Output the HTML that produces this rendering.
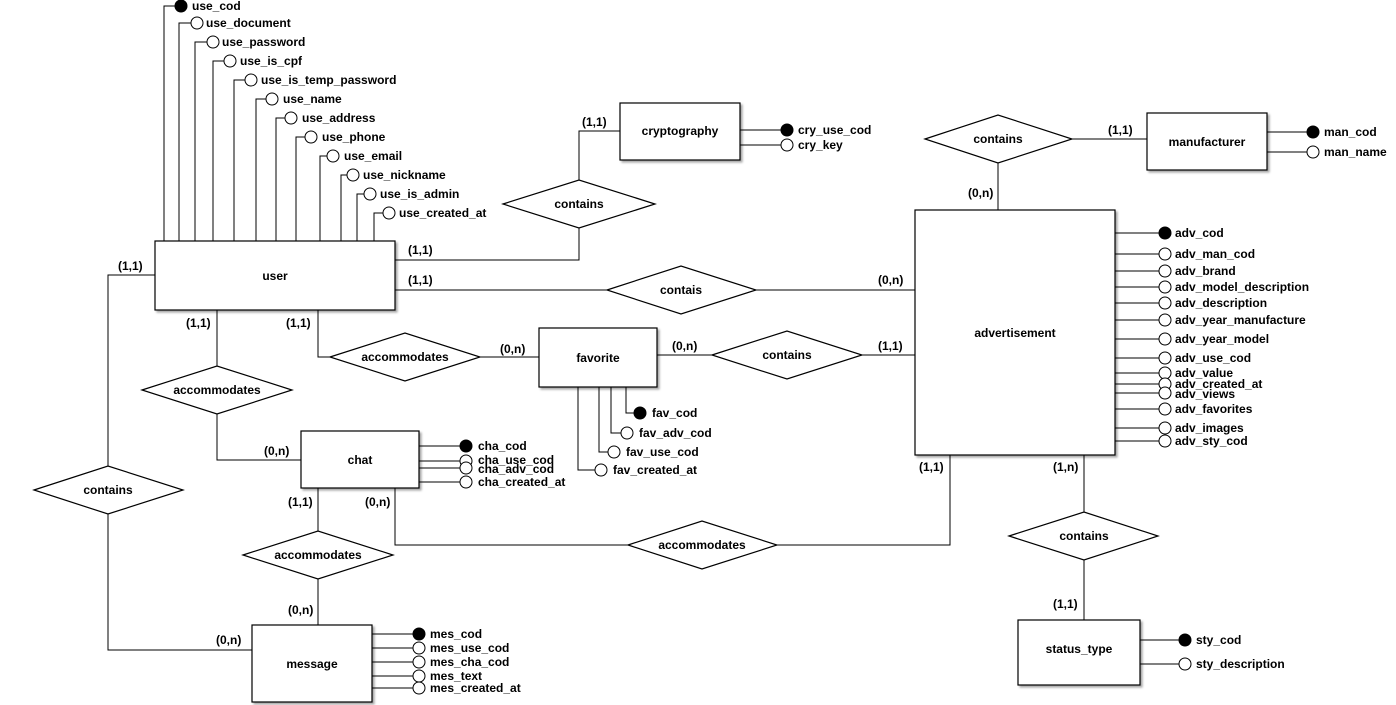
<!DOCTYPE html>
<html><head><meta charset="utf-8"><style>
body{margin:0;background:#fff}
svg{display:block;font-family:"Liberation Sans",Arial,sans-serif;font-weight:bold;font-size:12px}
.b{fill:#fff;stroke:#000;stroke-width:1.2}
.l{fill:none;stroke:#000;stroke-width:1}
.o{fill:#fff;stroke:#000;stroke-width:1}
.f{fill:#000;stroke:#000}
</style></head><body>
<svg width="1396" height="705" viewBox="0 0 1396 705">
<defs><filter id="s"><feDropShadow dx="2" dy="2" stdDeviation="1" flood-opacity="0.35"/></filter></defs>
<!-- connectors -->
<g class="l">
<!-- user attrs -->
<path d="M164 241V6H175M179 241V23H191M195 241V42H207M213 241V61H224M234 241V80H245M256 241V99H266M276 241V118H285M296 241V137H305M320 241V156H327M341 241V175H347M357 241V194H364M374 241V213H383"/>
<path d="M395 260H579V228M579 180V131H620"/>
<path d="M740 130H781M740 145H781"/>
<path d="M1072 139H1147M998 163V210M1267 132H1307M1267 152H1307"/>
<path d="M395 290H607M756 290H915"/>
<path d="M657 355H712M862 355H915"/>
<path d="M318 310V357H330M480 357H539"/>
<path d="M578 387V470H595M599 387V452H608M611 387V433H621M626 387V413H634"/>
<path d="M217 310V366M217 414V460H301"/>
<path d="M419 446H460M419 461H460M419 468H460M419 482H460"/>
<path d="M318 488V531M318 579V625"/>
<path d="M395 488V545H628M777 545H950V455"/>
<path d="M372 634H413M372 648H413M372 662H413M372 676H413M372 688H413"/>
<path d="M155 275H108V466M108 514V650H252"/>
<path d="M1084 455V512M1084 560V620M1140 640H1179M1140 664H1179"/>
<path d="M1115 233H1159M1115 254H1159M1115 271H1159M1115 287H1159M1115 303H1159M1115 320H1159M1115 339H1159M1115 358H1159M1115 373H1159M1115 384H1159M1115 393H1159M1115 409H1159M1115 428H1159M1115 441H1159"/>
</g>
<!-- boxes -->
<g class="b" filter="url(#s)">
<rect x="155" y="241" width="240" height="69"/>
<rect x="620" y="103" width="120" height="57"/>
<rect x="1147" y="113" width="120" height="57"/>
<rect x="915" y="210" width="200" height="245"/>
<rect x="539" y="328" width="118" height="59"/>
<rect x="301" y="431" width="118" height="57"/>
<rect x="252" y="625" width="120" height="77"/>
<rect x="1018" y="620" width="122" height="65"/>
</g>
<g class="b">
<polygon points="503,204 579,180 655,204 579,228"/>
<polygon points="925,139 998,115 1072,139 998,163"/>
<polygon points="607,290 681,266 756,290 681,314"/>
<polygon points="712,355 787,331 862,355 787,379"/>
<polygon points="330,357 405,333 480,357 405,381"/>
<polygon points="142,390 217,366 292,390 217,414"/>
<polygon points="243,555 318,531 393,555 318,579"/>
<polygon points="628,545 702,521 777,545 702,569"/>
<polygon points="34,490 108,466 183,490 108,514"/>
<polygon points="1009,536 1084,512 1158,536 1084,560"/>
</g>
<!-- circles -->
<circle class="f" cx="181" cy="6" r="6"/>
<g class="o">
<circle cx="197" cy="23" r="6"/><circle cx="213" cy="42" r="6"/><circle cx="230" cy="61" r="6"/><circle cx="251" cy="80" r="6"/><circle cx="272" cy="99" r="6"/><circle cx="291" cy="118" r="6"/><circle cx="311" cy="137" r="6"/><circle cx="333" cy="156" r="6"/><circle cx="353" cy="175" r="6"/><circle cx="370" cy="194" r="6"/><circle cx="389" cy="213" r="6"/>
<circle cx="787" cy="145" r="6"/><circle cx="1313" cy="152" r="6"/><circle cx="1185" cy="664" r="6"/>
<circle cx="627" cy="433" r="6"/><circle cx="614" cy="452" r="6"/><circle cx="601" cy="470" r="6"/>
<circle cx="466" cy="461" r="6"/><circle cx="466" cy="468" r="6"/><circle cx="466" cy="482" r="6"/>
<circle cx="419" cy="648" r="6"/><circle cx="419" cy="662" r="6"/><circle cx="419" cy="676" r="6"/><circle cx="419" cy="688" r="6"/>
<circle cx="1165" cy="254" r="6"/><circle cx="1165" cy="271" r="6"/><circle cx="1165" cy="287" r="6"/><circle cx="1165" cy="303" r="6"/><circle cx="1165" cy="320" r="6"/><circle cx="1165" cy="339" r="6"/><circle cx="1165" cy="358" r="6"/><circle cx="1165" cy="373" r="6"/><circle cx="1165" cy="384" r="6"/><circle cx="1165" cy="393" r="6"/><circle cx="1165" cy="409" r="6"/><circle cx="1165" cy="428" r="6"/><circle cx="1165" cy="441" r="6"/>
</g>
<g class="f">
<circle cx="787" cy="130" r="6"/><circle cx="1313" cy="132" r="6"/><circle cx="1185" cy="640" r="6"/><circle cx="640" cy="413" r="6"/><circle cx="466" cy="446" r="6"/><circle cx="419" cy="634" r="6"/><circle cx="1165" cy="233" r="6"/>
</g>
<!-- texts -->
<g dominant-baseline="central">
<text x="192" y="6">use_cod</text><text x="206" y="23">use_document</text><text x="222" y="42">use_password</text><text x="240" y="61">use_is_cpf</text><text x="261" y="80">use_is_temp_password</text><text x="283" y="99">use_name</text><text x="302" y="118">use_address</text><text x="322" y="137">use_phone</text><text x="344" y="156">use_email</text><text x="363" y="175">use_nickname</text><text x="380" y="194">use_is_admin</text><text x="399" y="213">use_created_at</text>
<text x="798" y="130">cry_use_cod</text><text x="798" y="145">cry_key</text>
<text x="1324" y="132">man_cod</text><text x="1324" y="152">man_name</text>
<text x="1196" y="640">sty_cod</text><text x="1196" y="664">sty_description</text>
<text x="652" y="413">fav_cod</text><text x="639" y="433">fav_adv_cod</text><text x="626" y="452">fav_use_cod</text><text x="613" y="470">fav_created_at</text>
<text x="478" y="446">cha_cod</text><text x="478" y="460">cha_use_cod</text><text x="478" y="469">cha_adv_cod</text><text x="478" y="482">cha_created_at</text>
<text x="430" y="634">mes_cod</text><text x="430" y="648">mes_use_cod</text><text x="430" y="662">mes_cha_cod</text><text x="430" y="676">mes_text</text><text x="430" y="688">mes_created_at</text>
<text x="1175" y="233">adv_cod</text><text x="1175" y="254">adv_man_cod</text><text x="1175" y="271">adv_brand</text><text x="1175" y="287">adv_model_description</text><text x="1175" y="303">adv_description</text><text x="1175" y="320">adv_year_manufacture</text><text x="1175" y="339">adv_year_model</text><text x="1175" y="358">adv_use_cod</text><text x="1175" y="373">adv_value</text><text x="1175" y="384">adv_created_at</text><text x="1175" y="394">adv_views</text><text x="1175" y="409">adv_favorites</text><text x="1175" y="428">adv_images</text><text x="1175" y="441">adv_sty_cod</text>
<!-- cardinalities -->
<text x="408" y="250">(1,1)</text><text x="582" y="122">(1,1)</text><text x="1108" y="130">(1,1)</text><text x="968" y="193">(0,n)</text>
<text x="408" y="280">(1,1)</text><text x="878" y="280">(0,n)</text><text x="672" y="346">(0,n)</text><text x="878" y="346">(1,1)</text>
<text x="286" y="323">(1,1)</text><text x="500" y="349">(0,n)</text><text x="186" y="323">(1,1)</text><text x="264" y="451">(0,n)</text>
<text x="288" y="502">(1,1)</text><text x="365" y="502">(0,n)</text><text x="288" y="610">(0,n)</text><text x="919" y="467">(1,1)</text>
<text x="118" y="266">(1,1)</text><text x="216" y="640">(0,n)</text><text x="1053" y="467">(1,n)</text><text x="1053" y="604">(1,1)</text>
</g>
<g text-anchor="middle" dominant-baseline="central">
<text x="275" y="276">user</text><text x="680" y="131">cryptography</text><text x="1207" y="142">manufacturer</text><text x="1015" y="333">advertisement</text><text x="598" y="358">favorite</text><text x="360" y="460">chat</text><text x="312" y="664">message</text><text x="1079" y="649">status_type</text>
<text x="579" y="204">contains</text><text x="998" y="139">contains</text><text x="681" y="290">contais</text><text x="787" y="355">contains</text><text x="405" y="357">accommodates</text><text x="217" y="390">accommodates</text><text x="318" y="555">accommodates</text><text x="702" y="545">accommodates</text><text x="108" y="490">contains</text><text x="1084" y="536">contains</text>
</g>
</svg>
</body></html>
